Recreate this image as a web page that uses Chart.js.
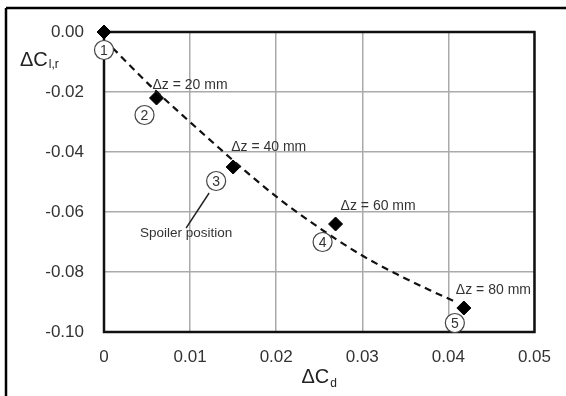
<!DOCTYPE html>
<html>
<head>
<meta charset="utf-8">
<script src="https://cdn.jsdelivr.net/npm/chart.js@4/dist/chart.umd.min.js"></script>
<style>
  html, body { margin: 0; padding: 0; background: #fff; overflow: hidden; }
  #wrap { width: 566px; height: 396px; position: relative; overflow: hidden; }
  canvas { display: block; }
</style>
</head>
<body>
<div id="wrap"><canvas id="c" width="566" height="396"></canvas></div>
<script>
// ---- data ----
const pointDCd = [0, 0.0061, 0.0150, 0.0269, 0.0418];
const pointDClr = [0, -0.022, -0.045, -0.064, -0.092];
const positionNumbers = ['1', '2', '3', '4', '5'];
const heightLabels = ['', 'Δz = 20 mm', 'Δz = 40 mm', 'Δz = 60 mm', 'Δz = 80 mm'];
const curveDCd = [0.0010, 0.0053, 0.0091, 0.0133, 0.0164, 0.0202, 0.0240, 0.0298, 0.0340, 0.0378, 0.0409];
const curveDClr = [-0.0053, -0.0177, -0.0277, -0.0385, -0.0463, -0.0553, -0.0633, -0.0742, -0.0807, -0.0860, -0.0900];
const xTickValues = [0, 0.01, 0.02, 0.03, 0.04, 0.05];
const xTickLabels = ['0', '0.01', '0.02', '0.03', '0.04', '0.05'];
const yTickValues = [0, -0.02, -0.04, -0.06, -0.08, -0.10];
const yTickLabels = ['0.00', '-0.02', '-0.04', '-0.06', '-0.08', '-0.10'];
const spoilerText = 'Spoiler position';

// ---- presentation (offsets in px relative to the points) ----
const labelOffsets = [[0, 0], [-4, -13], [-2, -20], [5, -18], [-8, -18]];
const circleOffsets = [[0, 18], [-12, 17], [-17, 14], [-13, 18], [-9, 15]];
const FONT = '"Liberation Sans", Arial, sans-serif';

const curveData = curveDCd.map((x, i) => ({ x: x, y: curveDClr[i] }));
const pointData = pointDCd.map((x, i) => ({ x: x, y: pointDClr[i] }));

function nearestLabel(v, values, labels) {
  let best = 0;
  values.forEach((t, i) => { if (Math.abs(t - v) < Math.abs(values[best] - v)) best = i; });
  return Math.abs(values[best] - v) < 1e-6 ? labels[best] : '';
}

const decor = {
  id: 'decor',
  beforeDraw(chart) {
    const ctx = chart.ctx;
    ctx.save();
    ctx.fillStyle = '#fff';
    ctx.fillRect(0, 0, chart.width, chart.height);
    // outer frame of the figure (cropped on the right and bottom)
    ctx.strokeStyle = '#000';
    ctx.lineWidth = 2.5;
    ctx.beginPath();
    ctx.moveTo(566, 8);
    ctx.lineTo(6, 8);
    ctx.stroke();
    ctx.beginPath();
    ctx.moveTo(6, 8);
    ctx.lineTo(6, 396);
    ctx.stroke();
    ctx.restore();
  },
  beforeDatasetsDraw(chart) {
    const { ctx, chartArea: a } = chart;
    ctx.save();
    ctx.strokeStyle = '#111';
    ctx.lineWidth = 2.5;
    ctx.strokeRect(a.left, a.top, a.right - a.left, a.bottom - a.top);
    ctx.restore();
  },
  afterDatasetsDraw(chart) {
    const { ctx, scales } = chart;
    const xs = scales.x, ys = scales.y;
    ctx.save();
    // spoiler pointer line
    const p3x = xs.getPixelForValue(pointDCd[2]);
    const p3y = ys.getPixelForValue(pointDClr[2]);
    ctx.strokeStyle = '#222';
    ctx.lineWidth = 1.4;
    ctx.beginPath();
    ctx.moveTo(p3x - 24, p3y + 26);
    ctx.lineTo(p3x - 47, p3y + 61);
    ctx.stroke();
    ctx.font = '13.5px ' + FONT;
    ctx.fillStyle = '#333';
    ctx.textAlign = 'center';
    ctx.textBaseline = 'middle';
    ctx.fillText(spoilerText, p3x - 47, p3y + 66);

    pointDCd.forEach((v, i) => {
      const px = xs.getPixelForValue(v);
      const py = ys.getPixelForValue(pointDClr[i]);
      // circled number
      const cx = px + circleOffsets[i][0], cy = py + circleOffsets[i][1];
      ctx.beginPath();
      ctx.arc(cx, cy, 9.5, 0, Math.PI * 2);
      ctx.fillStyle = '#fff';
      ctx.fill();
      ctx.strokeStyle = '#444';
      ctx.lineWidth = 1.2;
      ctx.stroke();
      ctx.fillStyle = '#333';
      ctx.font = '14px ' + FONT;
      ctx.textAlign = 'center';
      ctx.textBaseline = 'middle';
      ctx.fillText(positionNumbers[i], cx, cy + 1);
      // height label
      if (heightLabels[i]) {
        ctx.font = '14px ' + FONT;
        ctx.textAlign = 'left';
        ctx.fillStyle = '#333';
        ctx.fillText(heightLabels[i], px + labelOffsets[i][0], py + labelOffsets[i][1]);
      }
    });
    ctx.restore();
  },
  afterDraw(chart) {
    const ctx = chart.ctx;
    const a = chart.chartArea;
    ctx.save();
    ctx.fillStyle = '#222';
    ctx.textBaseline = 'alphabetic';
    // y axis title  ΔC_l,r
    ctx.textAlign = 'left';
    ctx.font = '20px ' + FONT;
    ctx.fillText('ΔC', 20, 66);
    const w1 = ctx.measureText('ΔC').width;
    ctx.font = '12px ' + FONT;
    ctx.fillText('l,r', 20 + w1 + 1, 68);
    // x axis title ΔC_d
    ctx.font = '20px ' + FONT;
    const w2 = ctx.measureText('ΔC').width;
    ctx.font = '12px ' + FONT;
    const w3 = ctx.measureText('d').width;
    const cx = (a.left + a.right) / 2;
    const startX = cx - (w2 + 1 + w3) / 2;
    ctx.font = '20px ' + FONT;
    ctx.fillText('ΔC', startX, 383);
    ctx.font = '12px ' + FONT;
    ctx.fillText('d', startX + w2 + 1, 387);
    // keep the cropped right margin clean
    ctx.fillStyle = '#fff';
    ctx.fillRect(552, 12, 14, 384);
    ctx.restore();
  }
};

new Chart(document.getElementById('c'), {
  type: 'scatter',
  data: {
    datasets: [
      {
        label: 'trend',
        data: curveData,
        showLine: true,
        borderColor: '#111',
        borderWidth: 2.2,
        borderDash: [7, 5],
        pointRadius: 0,
        cubicInterpolationMode: 'monotone',
        fill: false
      },
      {
        label: 'positions',
        data: pointData,
        pointStyle: 'rectRot',
        pointRadius: 7,
        pointBackgroundColor: '#000',
        pointBorderColor: '#000',
        showLine: false,
        clip: false
      }
    ]
  },
  options: {
    responsive: false,
    animation: false,
    devicePixelRatio: 1,
    layout: { padding: { top: 32, right: 27, left: 0, bottom: 0 } },
    plugins: { legend: { display: false }, tooltip: { enabled: false } },
    scales: {
      x: {
        type: 'linear',
        min: 0,
        max: 0.05,
        afterFit(s) { s.height = 64; },
        afterBuildTicks(s) { s.ticks = xTickValues.map(v => ({ value: v })); },
        ticks: {
          padding: 15,
          color: '#333',
          font: { family: FONT, size: 17 },
          callback: (v) => nearestLabel(v, xTickValues, xTickLabels),
          maxRotation: 0
        },
        grid: { color: '#aaaaaa', lineWidth: 1.5, drawTicks: false },
        border: { display: false }
      },
      y: {
        type: 'linear',
        min: -0.1,
        max: 0,
        afterFit(s) { s.width = 104; },
        afterBuildTicks(s) { s.ticks = yTickValues.map(v => ({ value: v })); },
        ticks: {
          padding: 20,
          color: '#333',
          font: { family: FONT, size: 17 },
          callback: (v) => nearestLabel(v, yTickValues, yTickLabels)
        },
        grid: { color: '#aaaaaa', lineWidth: 1.5, drawTicks: false },
        border: { display: false }
      }
    }
  },
  plugins: [decor]
});
</script>
</body>
</html>
